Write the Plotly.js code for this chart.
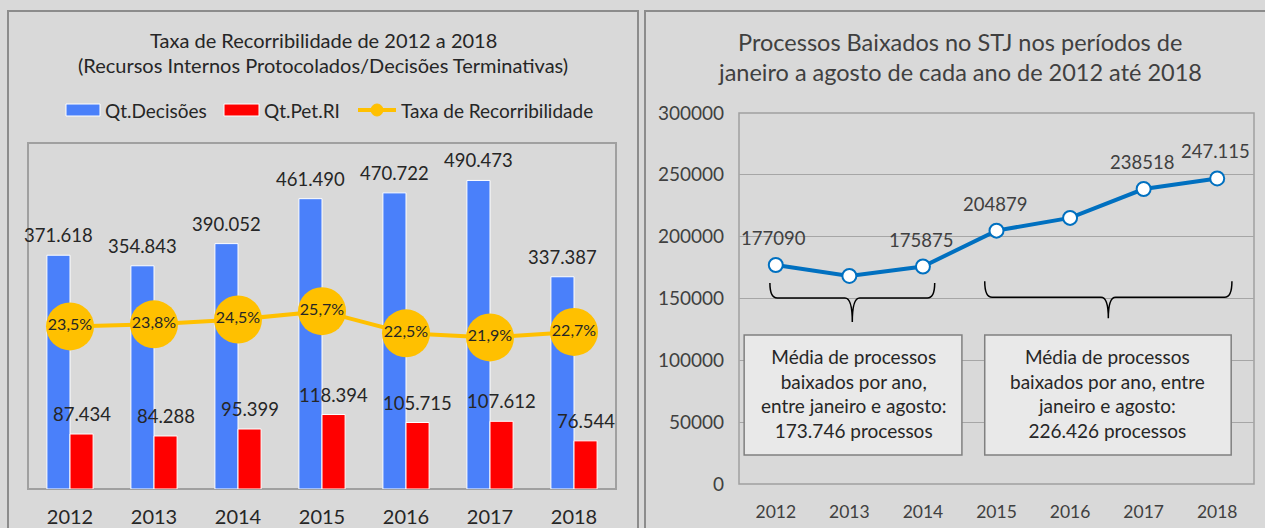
<!DOCTYPE html>
<html>
<head>
<meta charset="utf-8">
<script src="https://cdn.plot.ly/plotly-3.0.1.min.js"></script>
<style>html,body{margin:0;padding:0;background:#d9d9d9;}#chart{width:1265px;height:528px;}</style>
</head>
<body>
<div id="chart"></div>
<script>
// ---- data ----
const anos = [2012, 2013, 2014, 2015, 2016, 2017, 2018];
const qtDecisoes = [371618, 354843, 390052, 461490, 470722, 490473, 337387];
const qtPetRI = [87434, 84288, 95399, 118394, 105715, 107612, 76544];
const taxaRecorribilidade = [0.235, 0.238, 0.245, 0.257, 0.225, 0.219, 0.227];
const processosBaixados = [177090, 168273, 175875, 204879, 215192, 238518, 247115];
const rotulosBaixados = ['177090', '', '175875', '204879', '', '238518', '247.115'];
const mediaPeriodo1 = '173.746';
const mediaPeriodo2 = '226.426';

// ---- helpers (pixel -> paper) ----
const W = 1265, H = 528;
const px = x => x / W;
const py = y => 1 - y / H;
const FONT = 'Lato, "Noto Sans", sans-serif';
const DARK = '#262626';

const cats = anos.map(String);
const fmt = v => String(v).replace(/\B(?=(\d{3})+(?!\d))/g, '.');

const traces = [
  {
    type: 'bar', name: 'Qt.Decisões', x: cats, y: qtDecisoes, xaxis: 'x', yaxis: 'y',
    marker: {color: '#4a80fa', line: {color: '#ffffff', width: 1}}, hoverinfo: 'skip'
  },
  {
    type: 'bar', name: 'Qt.Pet.RI', x: cats, y: qtPetRI, xaxis: 'x', yaxis: 'y',
    marker: {color: '#ff0000', line: {color: '#ffffff', width: 1}}, hoverinfo: 'skip'
  },
  {
    type: 'scatter', name: 'Taxa de Recorribilidade', x: cats, y: taxaRecorribilidade,
    xaxis: 'x', yaxis: 'y3', mode: 'lines+markers+text',
    line: {color: '#ffc000', width: 4},
    marker: {color: '#ffc000', size: 48},
    texttemplate: '%{y:.1%}', textposition: 'middle center',
    textfont: {size: 16, color: DARK, family: FONT}, cliponaxis: false, hoverinfo: 'skip'
  },
  {
    type: 'scatter', name: 'Processos Baixados', x: anos, y: processosBaixados,
    xaxis: 'x2', yaxis: 'y2', mode: 'lines+markers',
    line: {color: '#0070c0', width: 4},
    marker: {color: '#ffffff', size: 14, line: {color: '#0070c0', width: 2}},
    cliponaxis: false, hoverinfo: 'skip'
  }
];

const shapes = [
  // panel frames
  {type: 'rect', xref: 'paper', yref: 'paper', x0: px(8), x1: px(638), y0: py(540), y1: py(11),
   line: {color: '#8c8c8c', width: 2}, layer: 'below'},
  {type: 'rect', xref: 'paper', yref: 'paper', x0: px(645), x1: px(1275), y0: py(540), y1: py(11),
   line: {color: '#8c8c8c', width: 2}, layer: 'below'},
  // plot area outlines
  {type: 'rect', xref: 'paper', yref: 'paper', x0: px(28), x1: px(616), y0: py(489), y1: py(143),
   line: {color: '#a0a0a0', width: 2}, layer: 'below'},
  {type: 'rect', xref: 'paper', yref: 'paper', x0: px(739), x1: px(1254), y0: py(484), y1: py(113),
   line: {color: '#a0a0a0', width: 1.5}, layer: 'below'},
  // legend swatches
  {type: 'rect', xref: 'paper', yref: 'paper', x0: px(66), x1: px(100), y0: py(116), y1: py(104),
   fillcolor: '#4a80fa', line: {color: '#ffffff', width: 1}},
  {type: 'rect', xref: 'paper', yref: 'paper', x0: px(224), x1: px(259), y0: py(116), y1: py(104),
   fillcolor: '#ff0000', line: {color: '#ffffff', width: 1}},
  {type: 'line', xref: 'paper', yref: 'paper', x0: px(358), x1: px(396), y0: py(110), y1: py(110),
   line: {color: '#ffc000', width: 4}},
  {type: 'circle', xref: 'paper', yref: 'paper', x0: px(371), x1: px(383), y0: py(116), y1: py(104),
   fillcolor: '#ffc000', line: {color: '#ffc000', width: 1}},
  // braces (data coords of right chart)
  {type: 'path', xref: 'x2', yref: 'y2',
   path: 'M2011.92,162500 Q2011.92,150400 2012.02,150400 L2012.94,150400 Q2013.04,150400 2013.04,131000 Q2013.04,150400 2013.14,150400 L2014.06,150400 Q2014.16,150400 2014.16,162500',
   line: {color: '#000000', width: 1.5}},
  {type: 'path', xref: 'x2', yref: 'y2',
   path: 'M2014.84,164000 Q2014.84,151000 2014.94,151000 L2016.42,151000 Q2016.52,151000 2016.52,134000 Q2016.52,151000 2016.62,151000 L2018.10,151000 Q2018.20,151000 2018.20,164000',
   line: {color: '#000000', width: 1.5}},
  // text boxes
  {type: 'rect', xref: 'x2', yref: 'y2', x0: 2011.57, x1: 2014.53, y0: 23400, y1: 120450,
   fillcolor: '#e9e9e9', line: {color: '#808080', width: 1.5}, layer: 'above'},
  {type: 'rect', xref: 'x2', yref: 'y2', x0: 2014.84, x1: 2018.19, y0: 23400, y1: 120450,
   fillcolor: '#e9e9e9', line: {color: '#808080', width: 1.5}, layer: 'above'}
];

const annotations = [
  // left title
  {xref: 'paper', yref: 'paper', x: px(323), y: py(40), text: 'Taxa de Recorribilidade de 2012 a 2018',
   showarrow: false, font: {size: 20, color: DARK, family: FONT}, xanchor: 'center', yanchor: 'middle'},
  {xref: 'paper', yref: 'paper', x: px(323), y: py(65), text: '(Recursos Internos Protocolados/Decisões Terminativas)',
   showarrow: false, font: {size: 20, color: DARK, family: FONT}, xanchor: 'center', yanchor: 'middle'},
  // right title
  {xref: 'paper', yref: 'paper', x: px(960), y: py(42), text: 'Processos Baixados no STJ nos períodos de',
   showarrow: false, font: {size: 23.5, color: '#404040', family: FONT}, xanchor: 'center', yanchor: 'middle'},
  {xref: 'paper', yref: 'paper', x: px(960), y: py(72), text: 'janeiro a agosto de cada ano de 2012 até 2018',
   showarrow: false, font: {size: 23.5, color: '#404040', family: FONT}, xanchor: 'center', yanchor: 'middle'},
  // legend texts
  {xref: 'paper', yref: 'paper', x: px(103), y: py(110), text: 'Qt.Decisões', showarrow: false,
   font: {size: 19, color: DARK, family: FONT}, xanchor: 'left', yanchor: 'middle'},
  {xref: 'paper', yref: 'paper', x: px(262), y: py(110), text: 'Qt.Pet.RI', showarrow: false,
   font: {size: 19, color: DARK, family: FONT}, xanchor: 'left', yanchor: 'middle'},
  {xref: 'paper', yref: 'paper', x: px(399), y: py(110), text: 'Taxa de Recorribilidade', showarrow: false,
   font: {size: 19, color: DARK, family: FONT}, xanchor: 'left', yanchor: 'middle'},
  // box texts
  {xref: 'x2', yref: 'y2', x: (2011.57 + 2014.53) / 2, y: 73500,
   text: 'Média de processos<br>baixados por ano,<br>entre janeiro e agosto:<br>' + mediaPeriodo1 + ' processos',
   showarrow: false, font: {size: 19, color: DARK, family: FONT}, align: 'center', xanchor: 'center', yanchor: 'middle'},
  {xref: 'x2', yref: 'y2', x: (2014.84 + 2018.19) / 2, y: 73500,
   text: 'Média de processos<br>baixados por ano, entre<br>janeiro e agosto:<br>' + mediaPeriodo2 + ' processos',
   showarrow: false, font: {size: 19, color: DARK, family: FONT}, align: 'center', xanchor: 'center', yanchor: 'middle'}
];

// bar value labels (left chart) - category index on x
cats.forEach((c, i) => {
  annotations.push({xref: 'x', yref: 'y', x: i, y: qtDecisoes[i], text: fmt(qtDecisoes[i]),
    showarrow: false, xshift: -11.5, yshift: 20, font: {size: 18.5, color: DARK, family: FONT},
    xanchor: 'center', yanchor: 'middle'});
  annotations.push({xref: 'x', yref: 'y', x: i, y: qtPetRI[i], text: fmt(qtPetRI[i]),
    showarrow: false, xshift: 11.5, yshift: 20, font: {size: 18.5, color: DARK, family: FONT},
    xanchor: 'center', yanchor: 'middle'});
});

// point labels on right chart
anos.forEach((a, i) => {
  if (rotulosBaixados[i]) {
    annotations.push({xref: 'x2', yref: 'y2', x: a, y: processosBaixados[i], text: rotulosBaixados[i],
      showarrow: false, yshift: 27, xshift: -2, font: {size: 18.5, color: '#404040', family: FONT},
      xanchor: 'center', yanchor: 'middle'});
  }
});

const layout = {
  width: W, height: H,
  margin: {l: 0, r: 0, t: 0, b: 0},
  paper_bgcolor: '#d9d9d9', plot_bgcolor: 'rgba(0,0,0,0)',
  separators: ',.',
  showlegend: false,
  barmode: 'group', bargap: 0.45, bargroupgap: 0,
  font: {family: FONT, color: DARK},
  xaxis: {domain: [px(28), px(616)], anchor: 'y', type: 'category', range: [-0.5, 6.5], autorange: false,
    showgrid: false, zeroline: false,
    showline: false, ticks: '', tickfont: {size: 20, color: DARK, family: FONT}, ticklabelstandoff: 14},
  yaxis: {domain: [py(489), py(143)], anchor: 'x', range: [0, 550000], visible: false, showgrid: false},
  yaxis3: {overlaying: 'y', anchor: 'x', range: [0, 0.5], visible: false, showgrid: false},
  xaxis2: {domain: [px(739), px(1254)], anchor: 'y2', range: [2011.5, 2018.5], tickvals: anos,
    ticktext: cats, showgrid: false, zeroline: false, showline: false, ticks: '',
    tickfont: {size: 17.5, color: '#404040', family: FONT}, ticklabelstandoff: 15},
  yaxis2: {domain: [py(484), py(113)], anchor: 'x2', range: [0, 300000], dtick: 50000, tickformat: 'd',
    showgrid: true, gridcolor: '#a6a6a6', gridwidth: 1, zeroline: false, showline: false, ticks: '',
    tickfont: {size: 19, color: '#404040', family: FONT}, ticklabelstandoff: 14},
  shapes: shapes,
  annotations: annotations
};

Plotly.newPlot('chart', traces, layout, {staticPlot: true, displayModeBar: false});
</script>
</body>
</html>
